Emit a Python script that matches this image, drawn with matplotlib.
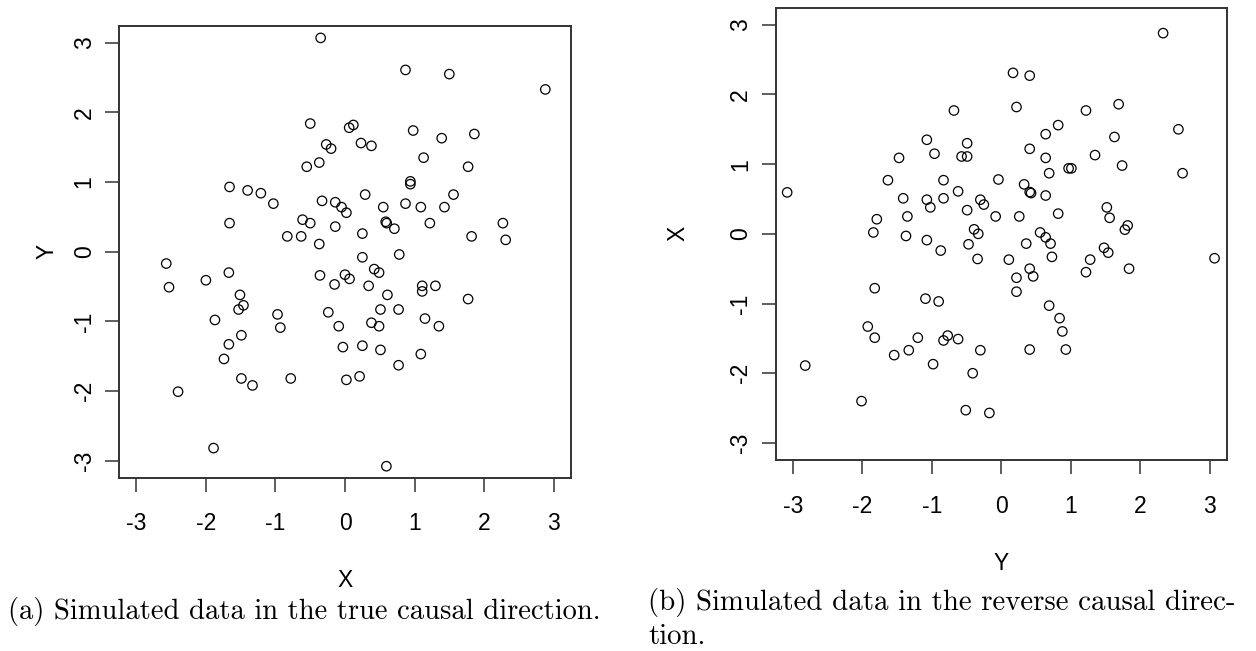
import matplotlib
matplotlib.use("Agg")
import matplotlib.pyplot as plt

plt.rcParams['font.family'] = ['Liberation Sans', 'DejaVu Sans']
plt.rcParams['axes.unicode_minus'] = False

# simulated data (X on horizontal, Y on vertical)
x_vals = [-0.35, -0.50, -0.27, -0.20, -0.55, -0.37, -1.66, -1.40, -1.21, -1.03,
          -1.66, -0.33, -0.14, -0.05, -0.61, -0.50, -0.14, -0.83, -0.63, -0.37,
          0.06, 0.12, 0.87, 1.50, 2.88, 0.98, 1.39, 1.86, 0.23, 0.38,
          1.13, 1.77, 0.94, 0.94, 0.29, 1.56, 0.02, 0.55, 0.87, 1.09,
          1.43, 0.585, 0.60, 0.71, 0.25, 1.22, 2.27, 1.82, 2.31, 0.25,
          0.78, -2.57, -2.53, -2.00, -1.67, -0.36, -0.15, 0.00, -1.51, -1.46,
          -1.53, -1.87, -0.97, -0.93, -0.24, -0.09, -0.03, -1.49, -1.67, -1.74,
          -1.49, -1.33, -0.78, 0.02, -2.40, -1.89, 0.065, 0.42, 0.49, 0.34,
          0.61, 1.11, 1.11, 1.30, 1.77, 0.51, 0.77, 1.15, 1.35, 0.38,
          0.49, 0.25, 0.51, 1.09, 0.77, 0.21, 0.595]
y_vals = [3.07, 1.84, 1.54, 1.48, 1.22, 1.28, 0.93, 0.88, 0.84, 0.69,
          0.41, 0.73, 0.71, 0.64, 0.46, 0.41, 0.36, 0.22, 0.22, 0.11,
          1.78, 1.82, 2.61, 2.55, 2.33, 1.74, 1.63, 1.69, 1.56, 1.52,
          1.35, 1.22, 1.01, 0.97, 0.82, 0.82, 0.56, 0.64, 0.69, 0.64,
          0.64, 0.43, 0.41, 0.33, 0.26, 0.41, 0.41, 0.22, 0.17, -0.08,
          -0.04, -0.17, -0.51, -0.41, -0.30, -0.34, -0.47, -0.33, -0.62, -0.77,
          -0.83, -0.98, -0.90, -1.09, -0.87, -1.07, -1.37, -1.20, -1.33, -1.54,
          -1.82, -1.92, -1.82, -1.84, -2.01, -2.82, -0.39, -0.25, -0.30, -0.49,
          -0.62, -0.49, -0.57, -0.49, -0.68, -0.83, -0.83, -0.96, -1.07, -1.02,
          -1.07, -1.35, -1.41, -1.47, -1.63, -1.79, -3.08]

ticks = [-3, -2, -1, 0, 1, 2, 3]
lim = (-3.245, 3.245)
captions = ["(a) Simulated data in the true causal direction.",
            "(b) Simulated data in the reverse causal direc-\ntion."]

fig = plt.figure(figsize=(12.56, 6.51), dpi=100)
W, H = 1256, 651
ax1 = fig.add_axes([119.3 / W, 1 - 477.7 / H, 451.4 / W, 452 / H])
ax2 = fig.add_axes([775.7 / W, 1 - 460 / H, 451 / W, 452.3 / H])


def r_style(ax, xs, ys, xlab, ylab, ylab_x):
    ax.scatter(xs, ys, s=46, facecolors='none', edgecolors='black', linewidths=0.9)
    ax.set_xlim(lim)
    ax.set_ylim(lim)
    ax.set_xticks(ticks)
    ax.set_yticks(ticks)
    for sp in ax.spines.values():
        sp.set_linewidth(1.4)
        sp.set_color('#333333')
    ax.tick_params(direction='out', length=10, width=1.1, color='#333333', labelsize=16.5)
    ax.tick_params(axis='x', pad=15)
    ax.tick_params(axis='y', pad=7, labelrotation=90)
    for lab in ax.get_yticklabels():
        lab.set_verticalalignment('center')
    ax.set_xlabel(xlab, fontsize=16.5)
    ax.set_ylabel(ylab, fontsize=16.5, rotation=90)
    ax.xaxis.set_label_coords(0.5, -0.203)
    ax.yaxis.set_label_coords(ylab_x, 0.5)


r_style(ax1, x_vals, y_vals, 'X', 'Y', -0.135)
r_style(ax2, y_vals, x_vals, 'Y', 'X', -0.192)

fig.text(8 / W, 1 - 612 / H, captions[0], family='cmr10', fontsize=20.6,
         ha='left', va='center')
fig.text(648 / W, 1 - 619 / H, captions[1], family='cmr10', fontsize=20.8,
         ha='left', va='center', linespacing=1.32)

fig.savefig('out.png', dpi=100)
